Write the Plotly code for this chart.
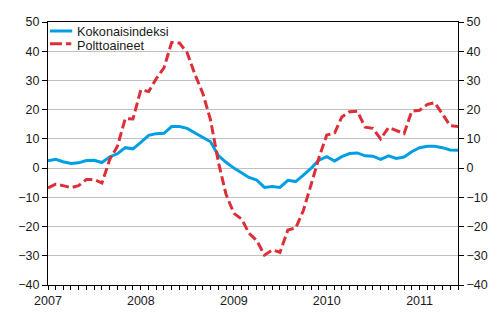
import plotly.graph_objects as go
import pandas as pd

# Monthly data Jan 2007 - Jun 2011 (annual change, %)
months = pd.date_range("2007-01-01", periods=54, freq="MS")

name_total = "Kokonaisindeksi"
name_fuel = "Polttoaineet"

total = [2.5, 3.0, 2.2, 1.6, 1.8, 2.6, 2.7, 1.9, 3.9, 4.9, 7.0, 6.6,
         8.8, 11.2, 11.8, 11.9, 14.2, 14.2, 13.6, 12.0, 10.7, 9.0, 4.3, 2.0,
         0.0, -1.8, -3.2, -4.1, -6.6, -6.3, -6.6, -4.2, -4.6, -2.4, 0.0, 2.7,
         3.9, 2.4, 3.9, 5.0, 5.2, 4.2, 4.1, 3.0, 4.2, 3.3, 3.8, 5.6,
         7.0, 7.5, 7.5, 7.0, 6.2, 6.1]

fuel = [-6.8, -5.5, -6.0, -6.7, -6.0, -3.9, -3.9, -5.1, 3.0, 7.5, 17.0, 16.8,
        26.8, 26.2, 30.5, 34.3, 43.0, 42.8, 39.5, 32.0, 25.5, 16.5, 2.0, -9.0,
        -15.5, -17.5, -22.3, -24.8, -29.8, -28.0, -28.8, -21.2, -20.5, -14.5, -5.5, 3.5,
        11.3, 12.0, 17.5, 19.3, 19.5, 14.0, 13.6, 10.0, 13.9, 12.8, 11.8, 19.5,
        19.8, 21.8, 22.4, 18.5, 14.5, 14.2]

y_ticks = list(range(-40, 51, 10))

BLUE = "#009fe3"
RED = "#dc2f37"
FONT = "Liberation Sans, Arial, sans-serif"

fig = go.Figure()
fig.add_trace(go.Scatter(x=months, y=total, mode="lines", name=name_total,
                         line=dict(color=BLUE, width=3), yaxis="y",
                         showlegend=False))
fig.add_trace(go.Scatter(x=months, y=fuel, mode="lines", name=name_fuel,
                         line=dict(color=RED, width=3, dash="9px,4px"),
                         yaxis="y2", showlegend=False))

# Plot area in pixels: x 48..471, y 21.5..285
L, R, T, B = 48, 471, 21.5, 285
def px(x):
    return (x - L) / (R - L)
def py(y):
    return (B - y) / (B - T)

shapes = [
    dict(type="line", xref="paper", yref="paper", x0=px(50), x1=px(73),
         y0=py(30.5), y1=py(30.5), line=dict(color=BLUE, width=3)),
    dict(type="line", xref="paper", yref="paper", x0=px(50), x1=px(72),
         y0=py(43.3), y1=py(43.3), line=dict(color=RED, width=3, dash="12px,4px")),
]
annotations = [
    dict(xref="paper", yref="paper", x=px(76), y=py(32), text=name_total,
         showarrow=False, xanchor="left", yanchor="middle",
         font=dict(family=FONT, size=12.7, color="#1a1a1a")),
    dict(xref="paper", yref="paper", x=px(76), y=py(46), text=name_fuel,
         showarrow=False, xanchor="left", yanchor="middle",
         font=dict(family=FONT, size=12.7, color="#1a1a1a")),
]

axis_common = dict(range=[-40, 50], tickvals=y_ticks, ticks="outside", ticklen=5,
                   tickcolor="black", showline=True, linecolor="black", linewidth=1,
                   zeroline=False, tickfont=dict(family=FONT, size=12.5, color="#1a1a1a"))

fig.update_layout(
    width=500, height=330,
    margin=dict(l=L, r=500 - R, t=T, b=330 - B, pad=0),
    paper_bgcolor="white", plot_bgcolor="white",
    showlegend=False,
    xaxis=dict(range=["2007-01-01", "2011-06-01"], type="date",
               tickvals=["2007-01-01", "2008-01-01", "2009-01-01", "2010-01-01", "2011-01-01"],
               tickformat="%Y", ticks="outside", ticklen=4, tickcolor="black",
               showline=True, linecolor="black", linewidth=1, mirror=True,
               showgrid=False, zeroline=False,
               minor=dict(dtick="M1", tick0="2007-01-01", ticks="outside", ticklen=4,
                          tickcolor="black", showgrid=False),
               tickfont=dict(family=FONT, size=12.5, color="#1a1a1a")),
    yaxis=dict(**axis_common, side="left", showgrid=True, gridcolor="#c0c0c0", gridwidth=1),
    yaxis2=dict(**axis_common, side="right", overlaying="y", showgrid=False),
    shapes=shapes,
    annotations=annotations,
)

fig.write_html("out.html", config={"displayModeBar": False},
               post_script="document.body.style.margin='0';")
